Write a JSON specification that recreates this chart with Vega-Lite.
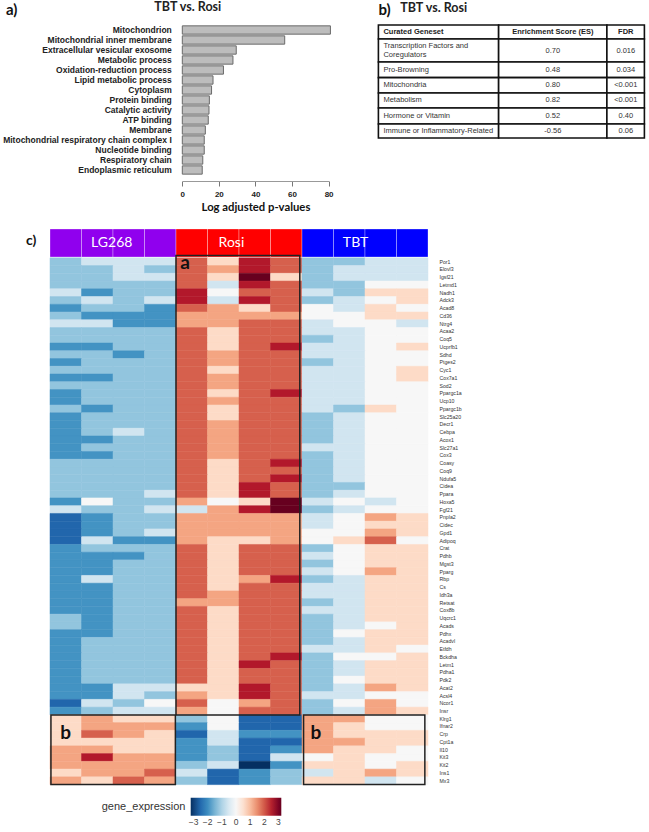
{"$schema":"https://vega.github.io/schema/vega-lite/v6.json","padding":{"left":2,"top":0,"right":0,"bottom":0},"background":"white","config":{"view":{"stroke":null},"font":"Liberation Sans"},"spacing":15,"vconcat":[{"bounds":"flush","spacing":49.4,"hconcat":[{"width":278.6,"height":150,"data":{"values":[{"term":"Mitochondrion","p":81},{"term":"Mitochondrial inner membrane","p":56},{"term":"Extracellular vesicular exosome","p":29.5},{"term":"Metabolic process","p":27.7},{"term":"Oxidation-reduction process","p":22.5},{"term":"Lipid metabolic process","p":16.8},{"term":"Cytoplasm","p":16},{"term":"Protein binding","p":14.8},{"term":"Catalytic activity","p":14.6},{"term":"ATP binding","p":14.2},{"term":"Membrane","p":12.6},{"term":"Mitochondrial respiratory chain complex I","p":12},{"term":"Nucleotide binding","p":12},{"term":"Respiratory chain","p":11.2},{"term":"Endoplasmic reticulum","p":10.9}]},"layer":[{"mark":{"type":"bar","fill":"#bdbdbd","stroke":"#6a6a6a","strokeWidth":1},"encoding":{"y":{"field":"term","type":"nominal","scale":{"domain":["Mitochondrion","Mitochondrial inner membrane","Extracellular vesicular exosome","Metabolic process","Oxidation-reduction process","Lipid metabolic process","Cytoplasm","Protein binding","Catalytic activity","ATP binding","Membrane","Mitochondrial respiratory chain complex I","Nucleotide binding","Respiratory chain","Endoplasmic reticulum"],"paddingInner":0.17,"paddingOuter":0.085},"axis":{"title":null,"offset":-132.3,"domain":false,"ticks":false,"labelPadding":11,"labelFontSize":8.5,"labelFontWeight":"bold","labelColor":"#222","labelLimit":300}},"x":{"field":"p","type":"quantitative","scale":{"domain":[0,80],"range":[132.3,278.6],"nice":false},"axis":{"offset":6,"values":[0,20,40,60,80],"grid":false,"tickSize":5,"tickColor":"#777","domainColor":"#999","labelFontSize":8,"labelFontWeight":"bold","labelColor":"#222","labelPadding":4,"labelFlush":false,"title":"Log adjusted p-values","titleFont":"Lato","titleFontSize":11.3,"titleFontWeight":"bold","titleColor":"#111","titlePadding":3}}}},{"data":{"values":[{"t":"a)","x":-96.4,"term":"Mitochondrion"}]},"mark":{"type":"text","font":"Lato","fontWeight":"bold","fontSize":15,"align":"left","dy":-20,"color":"#111"},"encoding":{"x":{"field":"x","type":"quantitative"},"y":{"field":"term","type":"nominal"},"text":{"field":"t"}}},{"data":{"values":[{"t":"TBT vs. Rosi","x":3,"term":"Mitochondrion"}]},"mark":{"type":"text","font":"Lato","fontWeight":"bold","fontSize":12.5,"align":"center","dy":-23,"color":"#222"},"encoding":{"x":{"field":"x","type":"quantitative"},"y":{"field":"term","type":"nominal"},"text":{"field":"t"}}}]},{"width":266,"height":113,"data":{"values":[{"column":"Curated Geneset","row":"Header","text":"Curated Geneset","x_start":0,"x_end":45.2,"y_start":0,"y_end":0.93,"x_text":1.9,"y_text":0.47,"kind":"head_left"},{"column":"Enrichment Score (ES)","row":"Header","text":"Enrichment Score (ES)","x_start":45.2,"x_end":85.9,"y_start":0,"y_end":0.93,"x_text":65.6,"y_text":0.47,"kind":"head_mid"},{"column":"FDR","row":"Header","text":"FDR","x_start":85.9,"x_end":100,"y_start":0,"y_end":0.93,"x_text":93,"y_text":0.47,"kind":"head_mid"},{"column":"Curated Geneset","row":"Transcription","text":"Transcription Factors and\nCoregulators","x_start":0,"x_end":45.2,"y_start":0.93,"y_end":2.47,"x_text":1.9,"y_text":1.42,"kind":"body_left"},{"column":"Enrichment Score (ES)","row":"Transcription","text":"0.70","x_start":45.2,"x_end":85.9,"y_start":0.93,"y_end":2.47,"x_text":65.6,"y_text":1.7,"kind":"body_mid"},{"column":"FDR","row":"Transcription","text":"0.016","x_start":85.9,"x_end":100,"y_start":0.93,"y_end":2.47,"x_text":93,"y_text":1.7,"kind":"body_mid"},{"column":"Curated Geneset","row":"Pro-Browning","text":"Pro-Browning","x_start":0,"x_end":45.2,"y_start":2.47,"y_end":3.51,"x_text":1.9,"y_text":2.99,"kind":"body_left"},{"column":"Enrichment Score (ES)","row":"Pro-Browning","text":"0.48","x_start":45.2,"x_end":85.9,"y_start":2.47,"y_end":3.51,"x_text":65.6,"y_text":2.99,"kind":"body_mid"},{"column":"FDR","row":"Pro-Browning","text":"0.034","x_start":85.9,"x_end":100,"y_start":2.47,"y_end":3.51,"x_text":93,"y_text":2.99,"kind":"body_mid"},{"column":"Curated Geneset","row":"Mitochondria","text":"Mitochondria","x_start":0,"x_end":45.2,"y_start":3.51,"y_end":4.53,"x_text":1.9,"y_text":4.02,"kind":"body_left"},{"column":"Enrichment Score (ES)","row":"Mitochondria","text":"0.80","x_start":45.2,"x_end":85.9,"y_start":3.51,"y_end":4.53,"x_text":65.6,"y_text":4.02,"kind":"body_mid"},{"column":"FDR","row":"Mitochondria","text":"<0.001","x_start":85.9,"x_end":100,"y_start":3.51,"y_end":4.53,"x_text":93,"y_text":4.02,"kind":"body_mid"},{"column":"Curated Geneset","row":"Metabolism","text":"Metabolism","x_start":0,"x_end":45.2,"y_start":4.53,"y_end":5.53,"x_text":1.9,"y_text":5.03,"kind":"body_left"},{"column":"Enrichment Score (ES)","row":"Metabolism","text":"0.82","x_start":45.2,"x_end":85.9,"y_start":4.53,"y_end":5.53,"x_text":65.6,"y_text":5.03,"kind":"body_mid"},{"column":"FDR","row":"Metabolism","text":"<0.001","x_start":85.9,"x_end":100,"y_start":4.53,"y_end":5.53,"x_text":93,"y_text":5.03,"kind":"body_mid"},{"column":"Curated Geneset","row":"Hormone","text":"Hormone or Vitamin","x_start":0,"x_end":45.2,"y_start":5.53,"y_end":6.6,"x_text":1.9,"y_text":6.06,"kind":"body_left"},{"column":"Enrichment Score (ES)","row":"Hormone","text":"0.52","x_start":45.2,"x_end":85.9,"y_start":5.53,"y_end":6.6,"x_text":65.6,"y_text":6.06,"kind":"body_mid"},{"column":"FDR","row":"Hormone","text":"0.40","x_start":85.9,"x_end":100,"y_start":5.53,"y_end":6.6,"x_text":93,"y_text":6.06,"kind":"body_mid"},{"column":"Curated Geneset","row":"Immune","text":"Immune or Inflammatory-Related","x_start":0,"x_end":45.2,"y_start":6.6,"y_end":7.53,"x_text":1.9,"y_text":7.06,"kind":"body_left"},{"column":"Enrichment Score (ES)","row":"Immune","text":"-0.56","x_start":45.2,"x_end":85.9,"y_start":6.6,"y_end":7.53,"x_text":65.6,"y_text":7.06,"kind":"body_mid"},{"column":"FDR","row":"Immune","text":"0.06","x_start":85.9,"x_end":100,"y_start":6.6,"y_end":7.53,"x_text":93,"y_text":7.06,"kind":"body_mid"}]},"layer":[{"mark":{"type":"rect","fill":"white","stroke":"#111","strokeWidth":1.6},"encoding":{"x":{"field":"x_start","type":"quantitative","scale":{"domain":[0,100],"nice":false},"axis":null},"x2":{"field":"x_end"},"y":{"field":"y_start","type":"quantitative","scale":{"domain":[7.53,0],"nice":false},"axis":null},"y2":{"field":"y_end"}}},{"transform":[{"filter":"datum.kind=='body_left'"}],"mark":{"type":"text","align":"left","fontSize":7.5,"color":"#333","lineBreak":"\n","lineHeight":9},"encoding":{"x":{"field":"x_text","type":"quantitative"},"y":{"field":"y_text","type":"quantitative"},"text":{"field":"text"}}},{"transform":[{"filter":"datum.kind=='body_mid'"}],"mark":{"type":"text","align":"center","fontSize":7.5,"color":"#333"},"encoding":{"x":{"field":"x_text","type":"quantitative"},"y":{"field":"y_text","type":"quantitative"},"text":{"field":"text"}}},{"transform":[{"filter":"datum.kind=='head_left'"}],"mark":{"type":"text","align":"left","fontSize":7.5,"fontWeight":"bold","color":"#222"},"encoding":{"x":{"field":"x_text","type":"quantitative"},"y":{"field":"y_text","type":"quantitative"},"text":{"field":"text"}}},{"transform":[{"filter":"datum.kind=='head_mid'"}],"mark":{"type":"text","align":"center","fontSize":7.5,"fontWeight":"bold","color":"#222"},"encoding":{"x":{"field":"x_text","type":"quantitative"},"y":{"field":"y_text","type":"quantitative"},"text":{"field":"text"}}},{"data":{"values":[{"t":"b)","x":0,"y":-1}]},"mark":{"type":"text","font":"Lato","fontWeight":"bold","fontSize":15,"align":"left","color":"#111"},"encoding":{"x":{"field":"x","type":"quantitative"},"y":{"field":"y","type":"quantitative"},"text":{"field":"t"}}},{"data":{"values":[{"t":"TBT vs. Rosi","x":8.2,"y":-1.13}]},"mark":{"type":"text","font":"Lato","fontWeight":"bold","fontSize":12.5,"align":"left","color":"#222"},"encoding":{"x":{"field":"x","type":"quantitative"},"y":{"field":"y","type":"quantitative"},"text":{"field":"t"}}}]}]},{"bounds":"flush","spacing":0.8,"vconcat":[{"width":378,"height":28,"resolve":{"scale":{"x":"independent"}},"layer":[{"data":{"values":[{"s":"L1","group":"LG268"},{"s":"L2","group":"LG268"},{"s":"L3","group":"LG268"},{"s":"L4","group":"LG268"},{"s":"R1","group":"Rosi"},{"s":"R2","group":"Rosi"},{"s":"R3","group":"Rosi"},{"s":"R4","group":"Rosi"},{"s":"T1","group":"TBT"},{"s":"T2","group":"TBT"},{"s":"T3","group":"TBT"},{"s":"T4","group":"TBT"}]},"mark":{"type":"rect","stroke":"#ffffff","strokeOpacity":0.3,"strokeWidth":1},"encoding":{"x":{"field":"s","type":"nominal","sort":null,"axis":null,"scale":{"padding":0}},"fill":{"field":"group","type":"nominal","legend":null,"scale":{"domain":["LG268","Rosi","TBT"],"range":["#9000ee","#ff0000","#0000ff"]}}}},{"data":{"values":[{"t":"LG268","x":1.96},{"t":"Rosi","x":5.76},{"t":"TBT","x":9.7}]},"mark":{"type":"text","font":"Lato","fontSize":14,"color":"white"},"encoding":{"x":{"field":"x","type":"quantitative","scale":{"domain":[0,12],"nice":false},"axis":null},"text":{"field":"t"}}}]},{"width":378,"height":526.8,"resolve":{"scale":{"x":"independent","y":"independent"}},"layer":[{"data":{"values":[
{"g":"Por1","s":"L1","v":-1.28},{"g":"Por1","s":"L2","v":-0.64},{"g":"Por1","s":"L3","v":-0.64},{"g":"Por1","s":"L4","v":-0.64},{"g":"Por1","s":"R1","v":1.92},{"g":"Por1","s":"R2","v":0.64},{"g":"Por1","s":"R3","v":2.56},{"g":"Por1","s":"R4","v":1.92},{"g":"Por1","s":"T1","v":-1.28},{"g":"Por1","s":"T2","v":-1.28},{"g":"Por1","s":"T3","v":-0.64},{"g":"Por1","s":"T4","v":-0.64},
{"g":"Elovl3","s":"L1","v":-1.28},{"g":"Elovl3","s":"L2","v":-1.28},{"g":"Elovl3","s":"L3","v":-0.64},{"g":"Elovl3","s":"L4","v":-1.28},{"g":"Elovl3","s":"R1","v":1.92},{"g":"Elovl3","s":"R2","v":1.28},{"g":"Elovl3","s":"R3","v":2.56},{"g":"Elovl3","s":"R4","v":1.92},{"g":"Elovl3","s":"T1","v":-1.28},{"g":"Elovl3","s":"T2","v":-0.64},{"g":"Elovl3","s":"T3","v":-0.64},{"g":"Elovl3","s":"T4","v":-0.64},
{"g":"Igsf21","s":"L1","v":-1.28},{"g":"Igsf21","s":"L2","v":-1.28},{"g":"Igsf21","s":"L3","v":-0.64},{"g":"Igsf21","s":"L4","v":-0.64},{"g":"Igsf21","s":"R1","v":1.92},{"g":"Igsf21","s":"R2","v":0.64},{"g":"Igsf21","s":"R3","v":3.2},{"g":"Igsf21","s":"R4","v":0.64},{"g":"Igsf21","s":"T1","v":-1.28},{"g":"Igsf21","s":"T2","v":-0.64},{"g":"Igsf21","s":"T3","v":-0.64},{"g":"Igsf21","s":"T4","v":-0.64},
{"g":"Letmd1","s":"L1","v":-1.28},{"g":"Letmd1","s":"L2","v":-1.28},{"g":"Letmd1","s":"L3","v":-1.28},{"g":"Letmd1","s":"L4","v":-1.28},{"g":"Letmd1","s":"R1","v":1.92},{"g":"Letmd1","s":"R2","v":-0.64},{"g":"Letmd1","s":"R3","v":2.56},{"g":"Letmd1","s":"R4","v":1.92},{"g":"Letmd1","s":"T1","v":-1.28},{"g":"Letmd1","s":"T2","v":-1.28},{"g":"Letmd1","s":"T3","v":0},{"g":"Letmd1","s":"T4","v":0},
{"g":"Nadh1","s":"L1","v":-0.64},{"g":"Nadh1","s":"L2","v":-1.92},{"g":"Nadh1","s":"L3","v":-1.28},{"g":"Nadh1","s":"L4","v":-1.28},{"g":"Nadh1","s":"R1","v":2.56},{"g":"Nadh1","s":"R2","v":0},{"g":"Nadh1","s":"R3","v":1.92},{"g":"Nadh1","s":"R4","v":1.92},{"g":"Nadh1","s":"T1","v":-0.64},{"g":"Nadh1","s":"T2","v":-1.28},{"g":"Nadh1","s":"T3","v":0.64},{"g":"Nadh1","s":"T4","v":0.64},
{"g":"Adck3","s":"L1","v":-1.28},{"g":"Adck3","s":"L2","v":-0.64},{"g":"Adck3","s":"L3","v":-1.28},{"g":"Adck3","s":"L4","v":-0.64},{"g":"Adck3","s":"R1","v":2.56},{"g":"Adck3","s":"R2","v":-0.64},{"g":"Adck3","s":"R3","v":2.56},{"g":"Adck3","s":"R4","v":1.92},{"g":"Adck3","s":"T1","v":-1.28},{"g":"Adck3","s":"T2","v":-0.64},{"g":"Adck3","s":"T3","v":0},{"g":"Adck3","s":"T4","v":0.64},
{"g":"Acad8","s":"L1","v":-1.92},{"g":"Acad8","s":"L2","v":-1.28},{"g":"Acad8","s":"L3","v":-1.28},{"g":"Acad8","s":"L4","v":-1.92},{"g":"Acad8","s":"R1","v":1.92},{"g":"Acad8","s":"R2","v":1.28},{"g":"Acad8","s":"R3","v":0.64},{"g":"Acad8","s":"R4","v":1.92},{"g":"Acad8","s":"T1","v":0},{"g":"Acad8","s":"T2","v":-0.64},{"g":"Acad8","s":"T3","v":0.64},{"g":"Acad8","s":"T4","v":0},
{"g":"Cd36","s":"L1","v":-1.28},{"g":"Cd36","s":"L2","v":-1.92},{"g":"Cd36","s":"L3","v":-1.92},{"g":"Cd36","s":"L4","v":-1.92},{"g":"Cd36","s":"R1","v":1.28},{"g":"Cd36","s":"R2","v":1.28},{"g":"Cd36","s":"R3","v":1.28},{"g":"Cd36","s":"R4","v":1.28},{"g":"Cd36","s":"T1","v":0},{"g":"Cd36","s":"T2","v":0},{"g":"Cd36","s":"T3","v":0.64},{"g":"Cd36","s":"T4","v":0.64},
{"g":"Ntrg4","s":"L1","v":-0.64},{"g":"Ntrg4","s":"L2","v":-0.64},{"g":"Ntrg4","s":"L3","v":-1.92},{"g":"Ntrg4","s":"L4","v":-1.92},{"g":"Ntrg4","s":"R1","v":1.28},{"g":"Ntrg4","s":"R2","v":1.28},{"g":"Ntrg4","s":"R3","v":1.92},{"g":"Ntrg4","s":"R4","v":1.92},{"g":"Ntrg4","s":"T1","v":-0.64},{"g":"Ntrg4","s":"T2","v":0},{"g":"Ntrg4","s":"T3","v":0},{"g":"Ntrg4","s":"T4","v":-0.64},
{"g":"Acaa2","s":"L1","v":-1.28},{"g":"Acaa2","s":"L2","v":-1.28},{"g":"Acaa2","s":"L3","v":-1.28},{"g":"Acaa2","s":"L4","v":-1.28},{"g":"Acaa2","s":"R1","v":1.92},{"g":"Acaa2","s":"R2","v":0.64},{"g":"Acaa2","s":"R3","v":1.92},{"g":"Acaa2","s":"R4","v":1.92},{"g":"Acaa2","s":"T1","v":-0.64},{"g":"Acaa2","s":"T2","v":-0.64},{"g":"Acaa2","s":"T3","v":0},{"g":"Acaa2","s":"T4","v":0},
{"g":"Coq5","s":"L1","v":-1.28},{"g":"Coq5","s":"L2","v":-1.28},{"g":"Coq5","s":"L3","v":-1.28},{"g":"Coq5","s":"L4","v":-1.28},{"g":"Coq5","s":"R1","v":1.92},{"g":"Coq5","s":"R2","v":0.64},{"g":"Coq5","s":"R3","v":1.92},{"g":"Coq5","s":"R4","v":1.92},{"g":"Coq5","s":"T1","v":-1.28},{"g":"Coq5","s":"T2","v":-0.64},{"g":"Coq5","s":"T3","v":0},{"g":"Coq5","s":"T4","v":0},
{"g":"Ucprfb1","s":"L1","v":-1.92},{"g":"Ucprfb1","s":"L2","v":-1.92},{"g":"Ucprfb1","s":"L3","v":-1.28},{"g":"Ucprfb1","s":"L4","v":-1.28},{"g":"Ucprfb1","s":"R1","v":1.92},{"g":"Ucprfb1","s":"R2","v":0.64},{"g":"Ucprfb1","s":"R3","v":1.92},{"g":"Ucprfb1","s":"R4","v":2.56},{"g":"Ucprfb1","s":"T1","v":-0.64},{"g":"Ucprfb1","s":"T2","v":-0.64},{"g":"Ucprfb1","s":"T3","v":0},{"g":"Ucprfb1","s":"T4","v":0.64},
{"g":"Sdhd","s":"L1","v":-1.28},{"g":"Sdhd","s":"L2","v":-1.28},{"g":"Sdhd","s":"L3","v":-1.92},{"g":"Sdhd","s":"L4","v":-1.28},{"g":"Sdhd","s":"R1","v":1.92},{"g":"Sdhd","s":"R2","v":1.28},{"g":"Sdhd","s":"R3","v":1.92},{"g":"Sdhd","s":"R4","v":1.92},{"g":"Sdhd","s":"T1","v":-0.64},{"g":"Sdhd","s":"T2","v":-0.64},{"g":"Sdhd","s":"T3","v":0},{"g":"Sdhd","s":"T4","v":0},
{"g":"Ptges2","s":"L1","v":-1.92},{"g":"Ptges2","s":"L2","v":-1.28},{"g":"Ptges2","s":"L3","v":-1.28},{"g":"Ptges2","s":"L4","v":-1.28},{"g":"Ptges2","s":"R1","v":1.92},{"g":"Ptges2","s":"R2","v":1.28},{"g":"Ptges2","s":"R3","v":1.92},{"g":"Ptges2","s":"R4","v":1.92},{"g":"Ptges2","s":"T1","v":-1.28},{"g":"Ptges2","s":"T2","v":-0.64},{"g":"Ptges2","s":"T3","v":0},{"g":"Ptges2","s":"T4","v":0},
{"g":"Cyc1","s":"L1","v":-1.28},{"g":"Cyc1","s":"L2","v":-1.28},{"g":"Cyc1","s":"L3","v":-1.28},{"g":"Cyc1","s":"L4","v":-1.28},{"g":"Cyc1","s":"R1","v":1.92},{"g":"Cyc1","s":"R2","v":0.64},{"g":"Cyc1","s":"R3","v":1.92},{"g":"Cyc1","s":"R4","v":1.92},{"g":"Cyc1","s":"T1","v":-0.64},{"g":"Cyc1","s":"T2","v":-0.64},{"g":"Cyc1","s":"T3","v":0},{"g":"Cyc1","s":"T4","v":0.64},
{"g":"Cox7a1","s":"L1","v":-1.92},{"g":"Cox7a1","s":"L2","v":-1.92},{"g":"Cox7a1","s":"L3","v":-1.28},{"g":"Cox7a1","s":"L4","v":-1.28},{"g":"Cox7a1","s":"R1","v":1.92},{"g":"Cox7a1","s":"R2","v":1.28},{"g":"Cox7a1","s":"R3","v":1.92},{"g":"Cox7a1","s":"R4","v":1.92},{"g":"Cox7a1","s":"T1","v":-0.64},{"g":"Cox7a1","s":"T2","v":-0.64},{"g":"Cox7a1","s":"T3","v":0},{"g":"Cox7a1","s":"T4","v":0.64},
{"g":"Sod2","s":"L1","v":-1.28},{"g":"Sod2","s":"L2","v":-1.28},{"g":"Sod2","s":"L3","v":-1.28},{"g":"Sod2","s":"L4","v":-1.28},{"g":"Sod2","s":"R1","v":1.92},{"g":"Sod2","s":"R2","v":1.28},{"g":"Sod2","s":"R3","v":1.92},{"g":"Sod2","s":"R4","v":1.92},{"g":"Sod2","s":"T1","v":-0.64},{"g":"Sod2","s":"T2","v":-0.64},{"g":"Sod2","s":"T3","v":0},{"g":"Sod2","s":"T4","v":0},
{"g":"Ppargc1a","s":"L1","v":-1.92},{"g":"Ppargc1a","s":"L2","v":-1.28},{"g":"Ppargc1a","s":"L3","v":-1.28},{"g":"Ppargc1a","s":"L4","v":-1.28},{"g":"Ppargc1a","s":"R1","v":1.92},{"g":"Ppargc1a","s":"R2","v":0.64},{"g":"Ppargc1a","s":"R3","v":1.92},{"g":"Ppargc1a","s":"R4","v":2.56},{"g":"Ppargc1a","s":"T1","v":-0.64},{"g":"Ppargc1a","s":"T2","v":-0.64},{"g":"Ppargc1a","s":"T3","v":0},{"g":"Ppargc1a","s":"T4","v":0},
{"g":"Ucp10","s":"L1","v":-1.92},{"g":"Ucp10","s":"L2","v":-1.28},{"g":"Ucp10","s":"L3","v":-1.28},{"g":"Ucp10","s":"L4","v":-1.28},{"g":"Ucp10","s":"R1","v":1.92},{"g":"Ucp10","s":"R2","v":1.28},{"g":"Ucp10","s":"R3","v":1.92},{"g":"Ucp10","s":"R4","v":1.92},{"g":"Ucp10","s":"T1","v":-0.64},{"g":"Ucp10","s":"T2","v":-0.64},{"g":"Ucp10","s":"T3","v":0},{"g":"Ucp10","s":"T4","v":0},
{"g":"Ppargc1b","s":"L1","v":-1.28},{"g":"Ppargc1b","s":"L2","v":-1.92},{"g":"Ppargc1b","s":"L3","v":-1.28},{"g":"Ppargc1b","s":"L4","v":-1.28},{"g":"Ppargc1b","s":"R1","v":1.92},{"g":"Ppargc1b","s":"R2","v":0.64},{"g":"Ppargc1b","s":"R3","v":1.92},{"g":"Ppargc1b","s":"R4","v":1.92},{"g":"Ppargc1b","s":"T1","v":-0.64},{"g":"Ppargc1b","s":"T2","v":-1.28},{"g":"Ppargc1b","s":"T3","v":0.64},{"g":"Ppargc1b","s":"T4","v":0},
{"g":"Slc25a20","s":"L1","v":-1.92},{"g":"Slc25a20","s":"L2","v":-1.28},{"g":"Slc25a20","s":"L3","v":-1.28},{"g":"Slc25a20","s":"L4","v":-1.28},{"g":"Slc25a20","s":"R1","v":1.92},{"g":"Slc25a20","s":"R2","v":0.64},{"g":"Slc25a20","s":"R3","v":1.92},{"g":"Slc25a20","s":"R4","v":1.92},{"g":"Slc25a20","s":"T1","v":-1.28},{"g":"Slc25a20","s":"T2","v":-0.64},{"g":"Slc25a20","s":"T3","v":0},{"g":"Slc25a20","s":"T4","v":0},
{"g":"Decr1","s":"L1","v":-1.92},{"g":"Decr1","s":"L2","v":-1.28},{"g":"Decr1","s":"L3","v":-1.28},{"g":"Decr1","s":"L4","v":-1.28},{"g":"Decr1","s":"R1","v":1.92},{"g":"Decr1","s":"R2","v":1.28},{"g":"Decr1","s":"R3","v":1.92},{"g":"Decr1","s":"R4","v":1.92},{"g":"Decr1","s":"T1","v":-1.28},{"g":"Decr1","s":"T2","v":-0.64},{"g":"Decr1","s":"T3","v":0},{"g":"Decr1","s":"T4","v":0},
{"g":"Cebpa","s":"L1","v":-1.92},{"g":"Cebpa","s":"L2","v":-1.28},{"g":"Cebpa","s":"L3","v":-0.64},{"g":"Cebpa","s":"L4","v":-1.28},{"g":"Cebpa","s":"R1","v":1.92},{"g":"Cebpa","s":"R2","v":1.28},{"g":"Cebpa","s":"R3","v":1.92},{"g":"Cebpa","s":"R4","v":1.92},{"g":"Cebpa","s":"T1","v":-1.28},{"g":"Cebpa","s":"T2","v":-0.64},{"g":"Cebpa","s":"T3","v":0},{"g":"Cebpa","s":"T4","v":0},
{"g":"Acox1","s":"L1","v":-1.92},{"g":"Acox1","s":"L2","v":-1.92},{"g":"Acox1","s":"L3","v":-1.28},{"g":"Acox1","s":"L4","v":-1.28},{"g":"Acox1","s":"R1","v":1.92},{"g":"Acox1","s":"R2","v":1.28},{"g":"Acox1","s":"R3","v":1.92},{"g":"Acox1","s":"R4","v":1.92},{"g":"Acox1","s":"T1","v":-1.28},{"g":"Acox1","s":"T2","v":-0.64},{"g":"Acox1","s":"T3","v":0},{"g":"Acox1","s":"T4","v":0},
{"g":"Slc27a1","s":"L1","v":-1.92},{"g":"Slc27a1","s":"L2","v":-1.28},{"g":"Slc27a1","s":"L3","v":-1.28},{"g":"Slc27a1","s":"L4","v":-1.28},{"g":"Slc27a1","s":"R1","v":1.92},{"g":"Slc27a1","s":"R2","v":1.28},{"g":"Slc27a1","s":"R3","v":1.92},{"g":"Slc27a1","s":"R4","v":1.92},{"g":"Slc27a1","s":"T1","v":-0.64},{"g":"Slc27a1","s":"T2","v":-0.64},{"g":"Slc27a1","s":"T3","v":0},{"g":"Slc27a1","s":"T4","v":0},
{"g":"Cox3","s":"L1","v":-1.92},{"g":"Cox3","s":"L2","v":-1.92},{"g":"Cox3","s":"L3","v":-1.28},{"g":"Cox3","s":"L4","v":-1.28},{"g":"Cox3","s":"R1","v":1.92},{"g":"Cox3","s":"R2","v":1.28},{"g":"Cox3","s":"R3","v":1.92},{"g":"Cox3","s":"R4","v":1.92},{"g":"Cox3","s":"T1","v":-1.28},{"g":"Cox3","s":"T2","v":-0.64},{"g":"Cox3","s":"T3","v":0},{"g":"Cox3","s":"T4","v":0},
{"g":"Coasy","s":"L1","v":-1.28},{"g":"Coasy","s":"L2","v":-1.28},{"g":"Coasy","s":"L3","v":-1.28},{"g":"Coasy","s":"L4","v":-1.28},{"g":"Coasy","s":"R1","v":1.92},{"g":"Coasy","s":"R2","v":0.64},{"g":"Coasy","s":"R3","v":1.92},{"g":"Coasy","s":"R4","v":2.56},{"g":"Coasy","s":"T1","v":-1.28},{"g":"Coasy","s":"T2","v":-0.64},{"g":"Coasy","s":"T3","v":0},{"g":"Coasy","s":"T4","v":0},
{"g":"Coq9","s":"L1","v":-1.28},{"g":"Coq9","s":"L2","v":-1.28},{"g":"Coq9","s":"L3","v":-1.28},{"g":"Coq9","s":"L4","v":-1.28},{"g":"Coq9","s":"R1","v":1.92},{"g":"Coq9","s":"R2","v":0.64},{"g":"Coq9","s":"R3","v":1.92},{"g":"Coq9","s":"R4","v":1.92},{"g":"Coq9","s":"T1","v":-1.28},{"g":"Coq9","s":"T2","v":-0.64},{"g":"Coq9","s":"T3","v":0},{"g":"Coq9","s":"T4","v":0},
{"g":"Ndufa5","s":"L1","v":-1.28},{"g":"Ndufa5","s":"L2","v":-1.28},{"g":"Ndufa5","s":"L3","v":-1.28},{"g":"Ndufa5","s":"L4","v":-1.28},{"g":"Ndufa5","s":"R1","v":1.92},{"g":"Ndufa5","s":"R2","v":0.64},{"g":"Ndufa5","s":"R3","v":1.92},{"g":"Ndufa5","s":"R4","v":2.56},{"g":"Ndufa5","s":"T1","v":-1.28},{"g":"Ndufa5","s":"T2","v":-0.64},{"g":"Ndufa5","s":"T3","v":0},{"g":"Ndufa5","s":"T4","v":0},
{"g":"Cidea","s":"L1","v":-1.28},{"g":"Cidea","s":"L2","v":-1.28},{"g":"Cidea","s":"L3","v":-1.28},{"g":"Cidea","s":"L4","v":-1.28},{"g":"Cidea","s":"R1","v":1.92},{"g":"Cidea","s":"R2","v":0.64},{"g":"Cidea","s":"R3","v":2.56},{"g":"Cidea","s":"R4","v":1.92},{"g":"Cidea","s":"T1","v":-1.28},{"g":"Cidea","s":"T2","v":-1.28},{"g":"Cidea","s":"T3","v":0},{"g":"Cidea","s":"T4","v":0},
{"g":"Ppara","s":"L1","v":-1.28},{"g":"Ppara","s":"L2","v":-1.28},{"g":"Ppara","s":"L3","v":-1.28},{"g":"Ppara","s":"L4","v":-0.64},{"g":"Ppara","s":"R1","v":1.92},{"g":"Ppara","s":"R2","v":0.64},{"g":"Ppara","s":"R3","v":2.56},{"g":"Ppara","s":"R4","v":1.92},{"g":"Ppara","s":"T1","v":-1.28},{"g":"Ppara","s":"T2","v":-0.64},{"g":"Ppara","s":"T3","v":0},{"g":"Ppara","s":"T4","v":0},
{"g":"Hoxa5","s":"L1","v":-1.92},{"g":"Hoxa5","s":"L2","v":0},{"g":"Hoxa5","s":"L3","v":-1.28},{"g":"Hoxa5","s":"L4","v":-1.28},{"g":"Hoxa5","s":"R1","v":1.28},{"g":"Hoxa5","s":"R2","v":0},{"g":"Hoxa5","s":"R3","v":0.64},{"g":"Hoxa5","s":"R4","v":3.2},{"g":"Hoxa5","s":"T1","v":-0.64},{"g":"Hoxa5","s":"T2","v":0},{"g":"Hoxa5","s":"T3","v":-0.64},{"g":"Hoxa5","s":"T4","v":0},
{"g":"Fgf21","s":"L1","v":-0.64},{"g":"Fgf21","s":"L2","v":-1.28},{"g":"Fgf21","s":"L3","v":-1.28},{"g":"Fgf21","s":"L4","v":-0.64},{"g":"Fgf21","s":"R1","v":-0.64},{"g":"Fgf21","s":"R2","v":1.28},{"g":"Fgf21","s":"R3","v":2.56},{"g":"Fgf21","s":"R4","v":3.2},{"g":"Fgf21","s":"T1","v":-1.28},{"g":"Fgf21","s":"T2","v":-0.64},{"g":"Fgf21","s":"T3","v":0},{"g":"Fgf21","s":"T4","v":0},
{"g":"Pnpla2","s":"L1","v":-2.56},{"g":"Pnpla2","s":"L2","v":-1.92},{"g":"Pnpla2","s":"L3","v":-1.28},{"g":"Pnpla2","s":"L4","v":-1.28},{"g":"Pnpla2","s":"R1","v":1.28},{"g":"Pnpla2","s":"R2","v":1.28},{"g":"Pnpla2","s":"R3","v":1.28},{"g":"Pnpla2","s":"R4","v":1.28},{"g":"Pnpla2","s":"T1","v":-0.64},{"g":"Pnpla2","s":"T2","v":0},{"g":"Pnpla2","s":"T3","v":1.28},{"g":"Pnpla2","s":"T4","v":0.64},
{"g":"Cidec","s":"L1","v":-2.56},{"g":"Cidec","s":"L2","v":-1.92},{"g":"Cidec","s":"L3","v":-1.28},{"g":"Cidec","s":"L4","v":-1.28},{"g":"Cidec","s":"R1","v":1.28},{"g":"Cidec","s":"R2","v":1.28},{"g":"Cidec","s":"R3","v":1.28},{"g":"Cidec","s":"R4","v":1.28},{"g":"Cidec","s":"T1","v":-0.64},{"g":"Cidec","s":"T2","v":0},{"g":"Cidec","s":"T3","v":0.64},{"g":"Cidec","s":"T4","v":0.64},
{"g":"Gpd1","s":"L1","v":-2.56},{"g":"Gpd1","s":"L2","v":-1.92},{"g":"Gpd1","s":"L3","v":-1.28},{"g":"Gpd1","s":"L4","v":-0.64},{"g":"Gpd1","s":"R1","v":1.28},{"g":"Gpd1","s":"R2","v":1.28},{"g":"Gpd1","s":"R3","v":1.28},{"g":"Gpd1","s":"R4","v":1.28},{"g":"Gpd1","s":"T1","v":0},{"g":"Gpd1","s":"T2","v":0},{"g":"Gpd1","s":"T3","v":1.28},{"g":"Gpd1","s":"T4","v":0.64},
{"g":"Adipoq","s":"L1","v":-2.56},{"g":"Adipoq","s":"L2","v":-0.64},{"g":"Adipoq","s":"L3","v":-1.92},{"g":"Adipoq","s":"L4","v":-1.92},{"g":"Adipoq","s":"R1","v":1.28},{"g":"Adipoq","s":"R2","v":0.64},{"g":"Adipoq","s":"R3","v":0.64},{"g":"Adipoq","s":"R4","v":1.28},{"g":"Adipoq","s":"T1","v":0},{"g":"Adipoq","s":"T2","v":0.64},{"g":"Adipoq","s":"T3","v":1.92},{"g":"Adipoq","s":"T4","v":0},
{"g":"Crat","s":"L1","v":-1.92},{"g":"Crat","s":"L2","v":-1.28},{"g":"Crat","s":"L3","v":-1.28},{"g":"Crat","s":"L4","v":-1.28},{"g":"Crat","s":"R1","v":1.92},{"g":"Crat","s":"R2","v":0.64},{"g":"Crat","s":"R3","v":1.92},{"g":"Crat","s":"R4","v":1.92},{"g":"Crat","s":"T1","v":-1.28},{"g":"Crat","s":"T2","v":0},{"g":"Crat","s":"T3","v":0.64},{"g":"Crat","s":"T4","v":0.64},
{"g":"Pdhb","s":"L1","v":-1.92},{"g":"Pdhb","s":"L2","v":-1.92},{"g":"Pdhb","s":"L3","v":-1.92},{"g":"Pdhb","s":"L4","v":-1.28},{"g":"Pdhb","s":"R1","v":1.92},{"g":"Pdhb","s":"R2","v":0.64},{"g":"Pdhb","s":"R3","v":1.92},{"g":"Pdhb","s":"R4","v":1.92},{"g":"Pdhb","s":"T1","v":-0.64},{"g":"Pdhb","s":"T2","v":0},{"g":"Pdhb","s":"T3","v":0.64},{"g":"Pdhb","s":"T4","v":0.64},
{"g":"Mgst3","s":"L1","v":-1.92},{"g":"Mgst3","s":"L2","v":-1.92},{"g":"Mgst3","s":"L3","v":-1.28},{"g":"Mgst3","s":"L4","v":-1.28},{"g":"Mgst3","s":"R1","v":1.92},{"g":"Mgst3","s":"R2","v":0.64},{"g":"Mgst3","s":"R3","v":1.92},{"g":"Mgst3","s":"R4","v":1.92},{"g":"Mgst3","s":"T1","v":-1.28},{"g":"Mgst3","s":"T2","v":0},{"g":"Mgst3","s":"T3","v":0.64},{"g":"Mgst3","s":"T4","v":0.64},
{"g":"Pparg","s":"L1","v":-1.92},{"g":"Pparg","s":"L2","v":-1.92},{"g":"Pparg","s":"L3","v":-1.28},{"g":"Pparg","s":"L4","v":-1.28},{"g":"Pparg","s":"R1","v":1.92},{"g":"Pparg","s":"R2","v":0.64},{"g":"Pparg","s":"R3","v":1.92},{"g":"Pparg","s":"R4","v":1.92},{"g":"Pparg","s":"T1","v":-0.64},{"g":"Pparg","s":"T2","v":0},{"g":"Pparg","s":"T3","v":1.28},{"g":"Pparg","s":"T4","v":0.64},
{"g":"Rbp","s":"L1","v":-1.92},{"g":"Rbp","s":"L2","v":-0.64},{"g":"Rbp","s":"L3","v":-1.28},{"g":"Rbp","s":"L4","v":-1.28},{"g":"Rbp","s":"R1","v":1.92},{"g":"Rbp","s":"R2","v":0.64},{"g":"Rbp","s":"R3","v":1.28},{"g":"Rbp","s":"R4","v":2.56},{"g":"Rbp","s":"T1","v":-1.28},{"g":"Rbp","s":"T2","v":-0.64},{"g":"Rbp","s":"T3","v":0.64},{"g":"Rbp","s":"T4","v":0.64},
{"g":"Cs","s":"L1","v":-1.92},{"g":"Cs","s":"L2","v":-1.92},{"g":"Cs","s":"L3","v":-1.28},{"g":"Cs","s":"L4","v":-1.28},{"g":"Cs","s":"R1","v":1.92},{"g":"Cs","s":"R2","v":0.64},{"g":"Cs","s":"R3","v":1.92},{"g":"Cs","s":"R4","v":1.92},{"g":"Cs","s":"T1","v":-0.64},{"g":"Cs","s":"T2","v":-0.64},{"g":"Cs","s":"T3","v":0.64},{"g":"Cs","s":"T4","v":0.64},
{"g":"Idh3a","s":"L1","v":-1.92},{"g":"Idh3a","s":"L2","v":-1.92},{"g":"Idh3a","s":"L3","v":-1.28},{"g":"Idh3a","s":"L4","v":-1.28},{"g":"Idh3a","s":"R1","v":1.92},{"g":"Idh3a","s":"R2","v":1.28},{"g":"Idh3a","s":"R3","v":1.92},{"g":"Idh3a","s":"R4","v":1.92},{"g":"Idh3a","s":"T1","v":-0.64},{"g":"Idh3a","s":"T2","v":-0.64},{"g":"Idh3a","s":"T3","v":0.64},{"g":"Idh3a","s":"T4","v":0.64},
{"g":"Retsat","s":"L1","v":-1.92},{"g":"Retsat","s":"L2","v":-1.92},{"g":"Retsat","s":"L3","v":-1.28},{"g":"Retsat","s":"L4","v":-1.28},{"g":"Retsat","s":"R1","v":1.28},{"g":"Retsat","s":"R2","v":1.28},{"g":"Retsat","s":"R3","v":1.92},{"g":"Retsat","s":"R4","v":1.92},{"g":"Retsat","s":"T1","v":-1.28},{"g":"Retsat","s":"T2","v":-0.64},{"g":"Retsat","s":"T3","v":0.64},{"g":"Retsat","s":"T4","v":0.64},
{"g":"Cox8b","s":"L1","v":-1.92},{"g":"Cox8b","s":"L2","v":-1.92},{"g":"Cox8b","s":"L3","v":-1.28},{"g":"Cox8b","s":"L4","v":-1.28},{"g":"Cox8b","s":"R1","v":1.92},{"g":"Cox8b","s":"R2","v":0.64},{"g":"Cox8b","s":"R3","v":1.92},{"g":"Cox8b","s":"R4","v":1.92},{"g":"Cox8b","s":"T1","v":-0.64},{"g":"Cox8b","s":"T2","v":-0.64},{"g":"Cox8b","s":"T3","v":0.64},{"g":"Cox8b","s":"T4","v":0.64},
{"g":"Uqcrc1","s":"L1","v":-1.28},{"g":"Uqcrc1","s":"L2","v":-1.92},{"g":"Uqcrc1","s":"L3","v":-1.28},{"g":"Uqcrc1","s":"L4","v":-1.28},{"g":"Uqcrc1","s":"R1","v":1.92},{"g":"Uqcrc1","s":"R2","v":0.64},{"g":"Uqcrc1","s":"R3","v":1.92},{"g":"Uqcrc1","s":"R4","v":1.92},{"g":"Uqcrc1","s":"T1","v":-1.28},{"g":"Uqcrc1","s":"T2","v":-0.64},{"g":"Uqcrc1","s":"T3","v":0.64},{"g":"Uqcrc1","s":"T4","v":0.64},
{"g":"Acads","s":"L1","v":-1.28},{"g":"Acads","s":"L2","v":-1.92},{"g":"Acads","s":"L3","v":-1.28},{"g":"Acads","s":"L4","v":-1.28},{"g":"Acads","s":"R1","v":1.92},{"g":"Acads","s":"R2","v":0.64},{"g":"Acads","s":"R3","v":1.92},{"g":"Acads","s":"R4","v":1.92},{"g":"Acads","s":"T1","v":-1.28},{"g":"Acads","s":"T2","v":-0.64},{"g":"Acads","s":"T3","v":0},{"g":"Acads","s":"T4","v":0.64},
{"g":"Pdhx","s":"L1","v":-1.92},{"g":"Pdhx","s":"L2","v":-1.92},{"g":"Pdhx","s":"L3","v":-1.28},{"g":"Pdhx","s":"L4","v":-1.28},{"g":"Pdhx","s":"R1","v":1.92},{"g":"Pdhx","s":"R2","v":0.64},{"g":"Pdhx","s":"R3","v":1.92},{"g":"Pdhx","s":"R4","v":1.92},{"g":"Pdhx","s":"T1","v":-1.28},{"g":"Pdhx","s":"T2","v":0},{"g":"Pdhx","s":"T3","v":0.64},{"g":"Pdhx","s":"T4","v":0.64},
{"g":"Acadvl","s":"L1","v":-1.92},{"g":"Acadvl","s":"L2","v":-1.28},{"g":"Acadvl","s":"L3","v":-1.28},{"g":"Acadvl","s":"L4","v":-1.28},{"g":"Acadvl","s":"R1","v":1.92},{"g":"Acadvl","s":"R2","v":0.64},{"g":"Acadvl","s":"R3","v":1.92},{"g":"Acadvl","s":"R4","v":1.92},{"g":"Acadvl","s":"T1","v":-1.28},{"g":"Acadvl","s":"T2","v":-0.64},{"g":"Acadvl","s":"T3","v":0.64},{"g":"Acadvl","s":"T4","v":0.64},
{"g":"Etfdh","s":"L1","v":-1.92},{"g":"Etfdh","s":"L2","v":-1.28},{"g":"Etfdh","s":"L3","v":-1.28},{"g":"Etfdh","s":"L4","v":-1.28},{"g":"Etfdh","s":"R1","v":1.92},{"g":"Etfdh","s":"R2","v":0.64},{"g":"Etfdh","s":"R3","v":1.92},{"g":"Etfdh","s":"R4","v":1.92},{"g":"Etfdh","s":"T1","v":-0.64},{"g":"Etfdh","s":"T2","v":-0.64},{"g":"Etfdh","s":"T3","v":0.64},{"g":"Etfdh","s":"T4","v":0},
{"g":"Bckdha","s":"L1","v":-1.92},{"g":"Bckdha","s":"L2","v":-1.28},{"g":"Bckdha","s":"L3","v":-1.28},{"g":"Bckdha","s":"L4","v":-1.28},{"g":"Bckdha","s":"R1","v":1.92},{"g":"Bckdha","s":"R2","v":0.64},{"g":"Bckdha","s":"R3","v":1.92},{"g":"Bckdha","s":"R4","v":2.56},{"g":"Bckdha","s":"T1","v":-1.28},{"g":"Bckdha","s":"T2","v":0},{"g":"Bckdha","s":"T3","v":0},{"g":"Bckdha","s":"T4","v":0.64},
{"g":"Letm1","s":"L1","v":-1.92},{"g":"Letm1","s":"L2","v":-1.28},{"g":"Letm1","s":"L3","v":-1.28},{"g":"Letm1","s":"L4","v":-1.28},{"g":"Letm1","s":"R1","v":1.92},{"g":"Letm1","s":"R2","v":0.64},{"g":"Letm1","s":"R3","v":2.56},{"g":"Letm1","s":"R4","v":1.92},{"g":"Letm1","s":"T1","v":-1.28},{"g":"Letm1","s":"T2","v":-0.64},{"g":"Letm1","s":"T3","v":0.64},{"g":"Letm1","s":"T4","v":0.64},
{"g":"Pdha1","s":"L1","v":-1.92},{"g":"Pdha1","s":"L2","v":-1.28},{"g":"Pdha1","s":"L3","v":-1.28},{"g":"Pdha1","s":"L4","v":-1.28},{"g":"Pdha1","s":"R1","v":1.92},{"g":"Pdha1","s":"R2","v":0.64},{"g":"Pdha1","s":"R3","v":1.92},{"g":"Pdha1","s":"R4","v":1.92},{"g":"Pdha1","s":"T1","v":-1.28},{"g":"Pdha1","s":"T2","v":-0.64},{"g":"Pdha1","s":"T3","v":0.64},{"g":"Pdha1","s":"T4","v":0.64},
{"g":"Pdk2","s":"L1","v":-1.92},{"g":"Pdk2","s":"L2","v":-1.28},{"g":"Pdk2","s":"L3","v":-1.28},{"g":"Pdk2","s":"L4","v":-1.28},{"g":"Pdk2","s":"R1","v":1.92},{"g":"Pdk2","s":"R2","v":0.64},{"g":"Pdk2","s":"R3","v":1.92},{"g":"Pdk2","s":"R4","v":1.92},{"g":"Pdk2","s":"T1","v":-1.28},{"g":"Pdk2","s":"T2","v":0},{"g":"Pdk2","s":"T3","v":0.64},{"g":"Pdk2","s":"T4","v":0.64},
{"g":"Acat2","s":"L1","v":-1.92},{"g":"Acat2","s":"L2","v":-1.92},{"g":"Acat2","s":"L3","v":-0.64},{"g":"Acat2","s":"L4","v":-0.64},{"g":"Acat2","s":"R1","v":0.64},{"g":"Acat2","s":"R2","v":0.64},{"g":"Acat2","s":"R3","v":2.56},{"g":"Acat2","s":"R4","v":1.92},{"g":"Acat2","s":"T1","v":-1.28},{"g":"Acat2","s":"T2","v":-0.64},{"g":"Acat2","s":"T3","v":1.28},{"g":"Acat2","s":"T4","v":0.64},
{"g":"Acsl4","s":"L1","v":-1.92},{"g":"Acsl4","s":"L2","v":-1.92},{"g":"Acsl4","s":"L3","v":-0.64},{"g":"Acsl4","s":"L4","v":-1.28},{"g":"Acsl4","s":"R1","v":1.28},{"g":"Acsl4","s":"R2","v":0.64},{"g":"Acsl4","s":"R3","v":2.56},{"g":"Acsl4","s":"R4","v":1.92},{"g":"Acsl4","s":"T1","v":-0.64},{"g":"Acsl4","s":"T2","v":-0.64},{"g":"Acsl4","s":"T3","v":0},{"g":"Acsl4","s":"T4","v":0},
{"g":"Ncor1","s":"L1","v":-2.56},{"g":"Ncor1","s":"L2","v":-0.64},{"g":"Ncor1","s":"L3","v":-1.28},{"g":"Ncor1","s":"L4","v":0},{"g":"Ncor1","s":"R1","v":1.92},{"g":"Ncor1","s":"R2","v":0},{"g":"Ncor1","s":"R3","v":1.28},{"g":"Ncor1","s":"R4","v":1.92},{"g":"Ncor1","s":"T1","v":-1.28},{"g":"Ncor1","s":"T2","v":0},{"g":"Ncor1","s":"T3","v":1.28},{"g":"Ncor1","s":"T4","v":0},
{"g":"Insr","s":"L1","v":-1.92},{"g":"Insr","s":"L2","v":-1.28},{"g":"Insr","s":"L3","v":-0.64},{"g":"Insr","s":"L4","v":-0.64},{"g":"Insr","s":"R1","v":1.28},{"g":"Insr","s":"R2","v":0},{"g":"Insr","s":"R3","v":1.92},{"g":"Insr","s":"R4","v":1.92},{"g":"Insr","s":"T1","v":-1.28},{"g":"Insr","s":"T2","v":-0.64},{"g":"Insr","s":"T3","v":1.28},{"g":"Insr","s":"T4","v":0.64},
{"g":"Klrg1","s":"L1","v":0.64},{"g":"Klrg1","s":"L2","v":1.28},{"g":"Klrg1","s":"L3","v":0.64},{"g":"Klrg1","s":"L4","v":0.64},{"g":"Klrg1","s":"R1","v":-1.28},{"g":"Klrg1","s":"R2","v":0},{"g":"Klrg1","s":"R3","v":-2.56},{"g":"Klrg1","s":"R4","v":-2.56},{"g":"Klrg1","s":"T1","v":1.28},{"g":"Klrg1","s":"T2","v":1.28},{"g":"Klrg1","s":"T3","v":0},{"g":"Klrg1","s":"T4","v":0},
{"g":"Ifnar2","s":"L1","v":0.64},{"g":"Ifnar2","s":"L2","v":1.28},{"g":"Ifnar2","s":"L3","v":1.28},{"g":"Ifnar2","s":"L4","v":1.28},{"g":"Ifnar2","s":"R1","v":-1.92},{"g":"Ifnar2","s":"R2","v":0},{"g":"Ifnar2","s":"R3","v":-2.56},{"g":"Ifnar2","s":"R4","v":-2.56},{"g":"Ifnar2","s":"T1","v":1.28},{"g":"Ifnar2","s":"T2","v":0.64},{"g":"Ifnar2","s":"T3","v":0},{"g":"Ifnar2","s":"T4","v":0},
{"g":"Crp","s":"L1","v":0.64},{"g":"Crp","s":"L2","v":1.92},{"g":"Crp","s":"L3","v":1.28},{"g":"Crp","s":"L4","v":0.64},{"g":"Crp","s":"R1","v":-2.56},{"g":"Crp","s":"R2","v":-0.64},{"g":"Crp","s":"R3","v":-1.92},{"g":"Crp","s":"R4","v":-1.92},{"g":"Crp","s":"T1","v":1.28},{"g":"Crp","s":"T2","v":0.64},{"g":"Crp","s":"T3","v":0.64},{"g":"Crp","s":"T4","v":0.64},
{"g":"Cpt1a","s":"L1","v":0.64},{"g":"Cpt1a","s":"L2","v":0.64},{"g":"Cpt1a","s":"L3","v":0.64},{"g":"Cpt1a","s":"L4","v":0.64},{"g":"Cpt1a","s":"R1","v":-1.92},{"g":"Cpt1a","s":"R2","v":-0.64},{"g":"Cpt1a","s":"R3","v":-2.56},{"g":"Cpt1a","s":"R4","v":-2.56},{"g":"Cpt1a","s":"T1","v":1.28},{"g":"Cpt1a","s":"T2","v":1.28},{"g":"Cpt1a","s":"T3","v":0.64},{"g":"Cpt1a","s":"T4","v":0.64},
{"g":"Il10","s":"L1","v":1.28},{"g":"Il10","s":"L2","v":1.28},{"g":"Il10","s":"L3","v":0.64},{"g":"Il10","s":"L4","v":0.64},{"g":"Il10","s":"R1","v":-1.92},{"g":"Il10","s":"R2","v":-1.28},{"g":"Il10","s":"R3","v":-2.56},{"g":"Il10","s":"R4","v":-1.92},{"g":"Il10","s":"T1","v":1.28},{"g":"Il10","s":"T2","v":0.64},{"g":"Il10","s":"T3","v":0.64},{"g":"Il10","s":"T4","v":0},
{"g":"Kit3","s":"L1","v":1.28},{"g":"Kit3","s":"L2","v":2.56},{"g":"Kit3","s":"L3","v":1.28},{"g":"Kit3","s":"L4","v":1.28},{"g":"Kit3","s":"R1","v":-1.92},{"g":"Kit3","s":"R2","v":-1.28},{"g":"Kit3","s":"R3","v":-2.56},{"g":"Kit3","s":"R4","v":-0.64},{"g":"Kit3","s":"T1","v":0},{"g":"Kit3","s":"T2","v":0.64},{"g":"Kit3","s":"T3","v":0},{"g":"Kit3","s":"T4","v":0},
{"g":"Kit2","s":"L1","v":1.28},{"g":"Kit2","s":"L2","v":1.28},{"g":"Kit2","s":"L3","v":1.28},{"g":"Kit2","s":"L4","v":1.28},{"g":"Kit2","s":"R1","v":-1.28},{"g":"Kit2","s":"R2","v":-0.64},{"g":"Kit2","s":"R3","v":-3.2},{"g":"Kit2","s":"R4","v":-1.92},{"g":"Kit2","s":"T1","v":0.64},{"g":"Kit2","s":"T2","v":0.64},{"g":"Kit2","s":"T3","v":0},{"g":"Kit2","s":"T4","v":0.64},
{"g":"Ins1","s":"L1","v":0.64},{"g":"Ins1","s":"L2","v":1.28},{"g":"Ins1","s":"L3","v":1.28},{"g":"Ins1","s":"L4","v":1.92},{"g":"Ins1","s":"R1","v":-0.64},{"g":"Ins1","s":"R2","v":-2.56},{"g":"Ins1","s":"R3","v":-1.92},{"g":"Ins1","s":"R4","v":-1.28},{"g":"Ins1","s":"T1","v":-0.64},{"g":"Ins1","s":"T2","v":0.64},{"g":"Ins1","s":"T3","v":1.28},{"g":"Ins1","s":"T4","v":0.64},
{"g":"Mx3","s":"L1","v":1.28},{"g":"Mx3","s":"L2","v":0.64},{"g":"Mx3","s":"L3","v":1.92},{"g":"Mx3","s":"L4","v":1.28},{"g":"Mx3","s":"R1","v":-1.28},{"g":"Mx3","s":"R2","v":-2.56},{"g":"Mx3","s":"R3","v":-1.92},{"g":"Mx3","s":"R4","v":-1.28},{"g":"Mx3","s":"T1","v":0.64},{"g":"Mx3","s":"T2","v":0.64},{"g":"Mx3","s":"T3","v":-0.64},{"g":"Mx3","s":"T4","v":0}
]},"mark":{"type":"rect","strokeWidth":0.5},"encoding":{"x":{"field":"s","type":"nominal","axis":null,"scale":{"domain":["L1","L2","L3","L4","R1","R2","R3","R4","T1","T2","T3","T4"],"padding":0}},"y":{"field":"g","type":"nominal","scale":{"padding":0,"domain":["Por1","Elovl3","Igsf21","Letmd1","Nadh1","Adck3","Acad8","Cd36","Ntrg4","Acaa2","Coq5","Ucprfb1","Sdhd","Ptges2","Cyc1","Cox7a1","Sod2","Ppargc1a","Ucp10","Ppargc1b","Slc25a20","Decr1","Cebpa","Acox1","Slc27a1","Cox3","Coasy","Coq9","Ndufa5","Cidea","Ppara","Hoxa5","Fgf21","Pnpla2","Cidec","Gpd1","Adipoq","Crat","Pdhb","Mgst3","Pparg","Rbp","Cs","Idh3a","Retsat","Cox8b","Uqcrc1","Acads","Pdhx","Acadvl","Etfdh","Bckdha","Letm1","Pdha1","Pdk2","Acat2","Acsl4","Ncor1","Insr","Klrg1","Ifnar2","Crp","Cpt1a","Il10","Kit3","Kit2","Ins1","Mx3"]},"axis":{"orient":"right","title":null,"domain":false,"ticks":false,"labelPadding":11,"labelFontSize":5.2,"labelColor":"#333"}},"stroke":{"field":"v","type":"quantitative","legend":null,"scale":{"domain":[-3.2,-2.56,-1.92,-1.28,-0.64,0,0.64,1.28,1.92,2.56,3.2],"range":["#053061","#2166ac","#4393c3","#92c5de","#d1e5f0","#f7f7f7","#fddbc7","#f4a582","#d6604d","#b2182b","#67001f"]}},"fill":{"field":"v","type":"quantitative","scale":{"domain":[-3.2,-2.56,-1.92,-1.28,-0.64,0,0.64,1.28,1.92,2.56,3.2],"range":["#053061","#2166ac","#4393c3","#92c5de","#d1e5f0","#f7f7f7","#fddbc7","#f4a582","#d6604d","#b2182b","#67001f"]},"legend":{"orient":"none","legendX":51.7,"legendY":540,"direction":"horizontal","title":"gene_expression","titleOrient":"left","titleFontSize":11,"titleFontWeight":"normal","titleColor":"#333","titlePadding":5,"gradientLength":90.6,"gradientThickness":18,"values":[-3,-2,-1,0,1,2,3],"labelFontSize":8.5,"labelColor":"#444","labelExpr":"replace(datum.label,'-','−')"}}}},{"data":{"values":[{"box":"a","x":4,"x2":7.93,"y":-0.3,"y2":59},{"box":"b","x":0.03,"x2":3.98,"y":59,"y2":68},{"box":"b","x":8.05,"x2":11.9,"y":59,"y2":68}]},"mark":{"type":"rect","fill":null,"stroke":"#222","strokeWidth":1.5},"encoding":{"x":{"field":"x","type":"quantitative","scale":{"domain":[0,12],"nice":false},"axis":null},"x2":{"field":"x2"},"y":{"field":"y","type":"quantitative","scale":{"domain":[68,0],"nice":false},"axis":null},"y2":{"field":"y2"}}},{"data":{"values":[{"t":"a","x":4.29,"y":0.72},{"t":"b","x":0.5,"y":61.3},{"t":"b","x":8.44,"y":61.3}]},"mark":{"type":"text","font":"Lato","fontWeight":"bold","fontSize":19,"color":"#111"},"encoding":{"x":{"field":"x","type":"quantitative","scale":{"domain":[0,12],"nice":false},"axis":null},"y":{"field":"y","type":"quantitative","scale":{"domain":[68,0],"nice":false},"axis":null},"text":{"field":"t"}}},{"data":{"values":[{"t":"c)","x":-0.6,"y":-2.2}]},"mark":{"type":"text","font":"Lato","fontWeight":"bold","fontSize":14,"color":"#111"},"encoding":{"x":{"field":"x","type":"quantitative","scale":{"domain":[0,12],"nice":false},"axis":null},"y":{"field":"y","type":"quantitative","scale":{"domain":[68,0],"nice":false},"axis":null},"text":{"field":"t"}}}]}]}]}
